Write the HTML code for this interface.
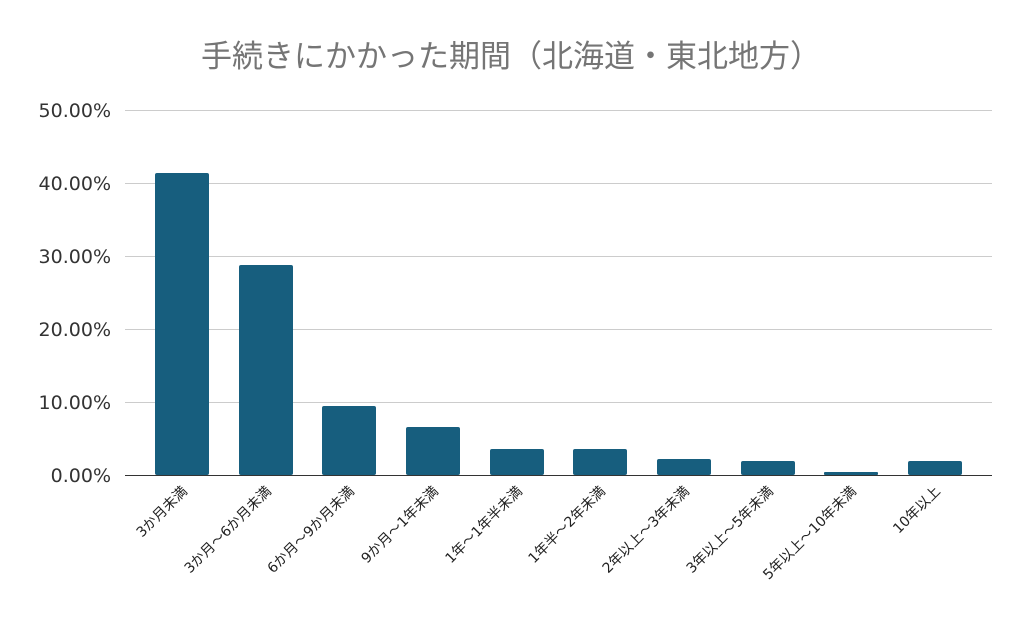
<!DOCTYPE html>
<html><head><meta charset="utf-8"><style>
body{margin:0;background:#fff;}
svg text{font-family:"DejaVu Sans","Noto Sans CJK JP",sans-serif;}
</style></head><body>
<svg width="1024" height="633" viewBox="0 0 1024 633" xmlns="http://www.w3.org/2000/svg">
<rect width="1024" height="633" fill="#fff"/>
<text x="511" y="67" text-anchor="middle" font-size="31" fill="#757575">手続きにかかった期間（北海道・東北地方）</text>
<g stroke="#cccccc" stroke-width="1">
<line x1="125" y1="110.5" x2="992" y2="110.5"/>
<line x1="125" y1="183.5" x2="992" y2="183.5"/>
<line x1="125" y1="256.5" x2="992" y2="256.5"/>
<line x1="125" y1="329.5" x2="992" y2="329.5"/>
<line x1="125" y1="402.5" x2="992" y2="402.5"/>
</g>
<g font-size="19" fill="#333" text-anchor="end">
<text x="111" y="117">50.00%</text>
<text x="111" y="190">40.00%</text>
<text x="111" y="263">30.00%</text>
<text x="111" y="336">20.00%</text>
<text x="111" y="409">10.00%</text>
<text x="111" y="482">0.00%</text>
</g>
<g fill="#175e7e">
<rect x="155" y="173" width="54" height="302" rx="2"/>
<rect x="239" y="265" width="54" height="210" rx="2"/>
<rect x="322" y="406" width="54" height="69" rx="2"/>
<rect x="406" y="427" width="54" height="48" rx="2"/>
<rect x="490" y="449" width="54" height="26" rx="2"/>
<rect x="573" y="449" width="54" height="26" rx="2"/>
<rect x="657" y="459" width="54" height="16" rx="2"/>
<rect x="741" y="461" width="54" height="14" rx="2"/>
<rect x="824" y="472" width="54" height="3" rx="1"/>
<rect x="908" y="461" width="54" height="14" rx="2"/>
</g>
<line x1="125" y1="475.5" x2="992" y2="475.5" stroke="#333" stroke-width="1"/>
<g font-size="14" fill="#222" text-anchor="end">
<text transform="translate(188,492) rotate(-45)">3か月未満</text>
<text transform="translate(272,492) rotate(-45)">3か月～6か月未満</text>
<text transform="translate(355,492) rotate(-45)">6か月～9か月未満</text>
<text transform="translate(439,492) rotate(-45)">9か月～1年未満</text>
<text transform="translate(523,492) rotate(-45)">1年～1年半未満</text>
<text transform="translate(606,492) rotate(-45)">1年半～2年未満</text>
<text transform="translate(690,492) rotate(-45)">2年以上～3年未満</text>
<text transform="translate(774,492) rotate(-45)">3年以上～5年未満</text>
<text transform="translate(857,492) rotate(-45)">5年以上～10年未満</text>
<text transform="translate(941,492) rotate(-45)">10年以上</text>
</g>
</svg>
</body></html>
